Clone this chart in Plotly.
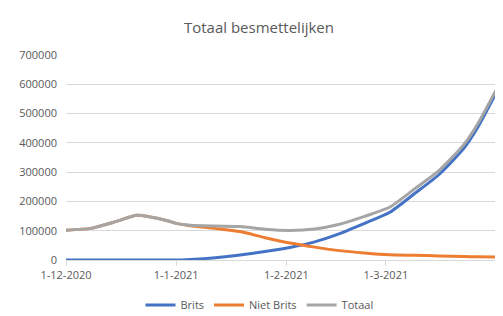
import plotly.graph_objects as go

dates = ["2020-12-01", "2020-12-08", "2020-12-15", "2020-12-21", "2020-12-29",
         "2021-01-01", "2021-01-05", "2021-01-12", "2021-01-19", "2021-01-26",
         "2021-02-02", "2021-02-09", "2021-02-16", "2021-02-23", "2021-03-02",
         "2021-03-09", "2021-03-16", "2021-03-23", "2021-03-27", "2021-04-01"]

brits = [0, 0, 0, 0, 0,
         0, 2000, 8000, 17000, 29000,
         43000, 62000, 90000, 125000, 162000,
         226000, 292000, 382000, 456000, 570000]

niet_brits = [102000, 108000, 131000, 153000, 136000,
              125000, 117000, 108000, 97000, 76000,
              58000, 44000, 32000, 24000, 18000,
              16000, 14000, 12000, 11000, 10000]

totaal = [102000, 108000, 131000, 153000, 136000,
          125000, 119000, 116000, 114000, 105000,
          101000, 106000, 122000, 149000, 180000,
          242000, 306000, 395000, 468000, 580000]

tick_dates = ["2020-12-01", "2021-01-01", "2021-02-01", "2021-03-01"]
tick_labels = ["1-12-2020", "1-1-2021", "1-2-2021", "1-3-2021"]

series = [("Brits", brits, "#4472C4"),
          ("Niet Brits", niet_brits, "#ED7D31"),
          ("Totaal", totaal, "#A5A5A5")]

fig = go.Figure()
for name, vals, col in series:
    fig.add_trace(go.Scatter(x=dates, y=vals, name=name, mode="lines",
                             line=dict(color=col, width=3, shape="spline", smoothing=0.6)))

font_family = "Open Sans, Liberation Sans, sans-serif"
fig.update_layout(
    width=495, height=308,
    margin=dict(l=58, r=7, t=47, b=56, autoexpand=False),
    paper_bgcolor="white", plot_bgcolor="white",
    font=dict(family=font_family, color="#595959", size=11),
    title=dict(text="Totaal besmettelijken", x=0.507, xanchor="center",
               y=0.935, yanchor="middle", yref="container",
               font=dict(size=15, color="#595959", family=font_family)),
    showlegend=True,
    legend=dict(orientation="h", x=0.45, xanchor="center", y=-0.22, yanchor="middle",
                font=dict(size=11, color="#595959"), itemwidth=30),
    xaxis=dict(type="date", range=["2020-12-01", "2021-04-01"], automargin=False,
               tickvals=tick_dates, ticktext=tick_labels,
               showgrid=False, showline=True, linecolor="#d9d9d9", linewidth=1,
               ticks="outside", ticklen=5, tickcolor="#d9d9d9",
               tickfont=dict(size=11, color="#595959"), zeroline=False),
    yaxis=dict(range=[0, 700000], dtick=100000, tickformat="d", automargin=False,
               showgrid=True, gridcolor="#d9d9d9", gridwidth=1,
               zeroline=False, showline=False,
               ticks="", ticklabelstandoff=8,
               tickfont=dict(size=11, color="#595959")),
)

fig.write_html("out.html")
